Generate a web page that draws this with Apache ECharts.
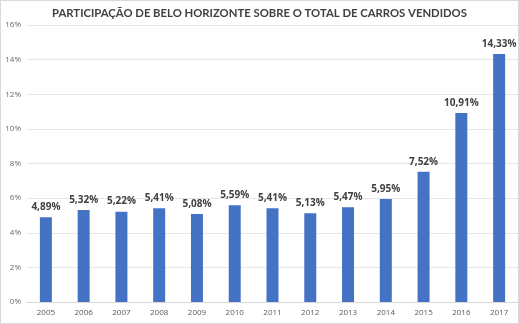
<!DOCTYPE html>
<html><head><meta charset="utf-8">
<script src="https://cdn.jsdelivr.net/npm/echarts@6/dist/echarts.min.js"></script>
<style>html,body{margin:0;padding:0;background:#fff}#c{width:519px;height:324px;box-sizing:border-box;border:1px solid #d9d9d9}</style>
</head><body><div id="c"></div>
<script>
const years = ['2005','2006','2007','2008','2009','2010','2011','2012','2013','2014','2015','2016','2017'];
const shares = [4.89,5.32,5.22,5.41,5.08,5.59,5.41,5.13,5.47,5.95,7.52,10.91,14.33];
const title = 'PARTICIPAÇÃO DE BELO HORIZONTE SOBRE O TOTAL DE CARROS VENDIDOS';
const chart = echarts.init(document.getElementById('c'), null, {renderer:'canvas'});
chart.setOption({
  animation:false,
  title:{text:title,left:'center',top:2,textStyle:{fontFamily:'Lato',fontSize:11.3,fontWeight:'bold',color:'#404040'}},
  grid:{left:26,right:0,top:24,bottom:21,containLabel:false},
  xAxis:{type:'category',data:years,axisLine:{lineStyle:{color:'#d9d9d9'}},axisTick:{show:false},
    axisLabel:{color:'#595959',fontFamily:'Open Sans',fontSize:8,margin:7}},
  yAxis:{type:'value',min:0,max:16,interval:2,axisLine:{show:false},axisTick:{show:false},
    splitLine:{lineStyle:{color:'#e6e6e6'}},
    axisLabel:{formatter:v=>v+'%',color:'#6a6a6a',fontFamily:'Open Sans',fontSize:8,margin:6}},
  series:[{type:'bar',data:shares,barWidth:12,itemStyle:{color:'#4472C4'},
    label:{show:true,position:'top',distance:5,formatter:p=>p.value.toFixed(2).replace('.',',')+'%',
      color:'#404040',fontFamily:'Open Sans',fontWeight:'bold',fontSize:10}}]
});
</script></body></html>
